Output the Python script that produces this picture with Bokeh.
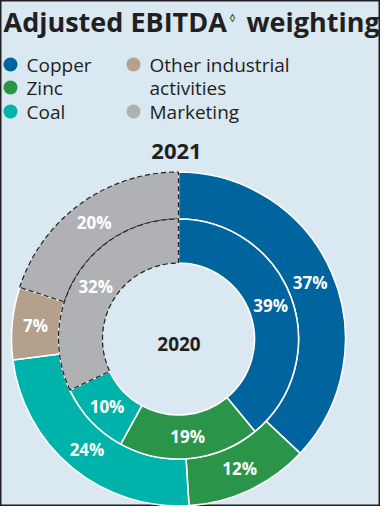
import math
from bokeh.plotting import figure
from bokeh.models import Range1d, ColumnDataSource
from bokeh.embed import file_html
from bokeh.resources import INLINE
from bokeh.core.properties import value

# ---- data ----
categories = ["Copper", "Zinc", "Coal", "Other industrial activities", "Marketing"]
legend_lines = [["Copper"], ["Zinc"], ["Coal"], ["Other industrial", "activities"], ["Marketing"]]
colors = ["#00649f", "#2a9548", "#00b3aa", "#b4a08d", "#b0b1b5"]
share_2021 = [37, 12, 24, 7, 20]
share_2020 = [39, 19, 10, 0, 32]
years = ["2021", "2020"]
title_main = "Adjusted EBITDA"
title_mark = "\u25ca"
title_tail = "weighting"

BG = "#d9e8f1"
INK = "#231f20"
FONT = value("Open Sans")
H = 522  # reference height, used to flip y

CX, CY = 183, H - 340.5
R_OUT, R_MID, R_IN = 167, 120, 76

p = figure(width=380, height=506, x_range=Range1d(5, 385), y_range=Range1d(H - 508, H - 2),
           output_backend="svg", toolbar_location=None, min_border=0,
           x_axis_location=None, y_axis_location=None)
p.grid.visible = False
p.background_fill_color = BG
p.border_fill_color = BG
p.outline_line_color = INK
p.outline_line_width = 2


def ring(shares, r0, r1):
    total = float(sum(shares))
    rows = dict(x=[], y=[], r0=[], r1=[], start=[], end=[], color=[], cat=[],
                lx=[], ly=[], label=[])
    cum = 0.0
    for cat, col, s in zip(categories, colors, shares):
        if s <= 0:
            continue
        a0 = math.pi / 2 - 2 * math.pi * cum / total
        a1 = math.pi / 2 - 2 * math.pi * (cum + s) / total
        am = (a0 + a1) / 2
        rm = (r0 + r1) / 2
        rows["x"].append(CX); rows["y"].append(CY)
        rows["r0"].append(r0); rows["r1"].append(r1)
        rows["start"].append(a0); rows["end"].append(a1)
        rows["color"].append(col); rows["cat"].append(cat)
        rows["lx"].append(CX + rm * math.cos(am))
        rows["ly"].append(CY + rm * math.sin(am))
        rows["label"].append(f"{s}%")
        cum += s
    return rows


outer = ring(share_2021, R_MID, R_OUT)
inner = ring(share_2020, R_IN, R_MID)


def subset(rows, keep):
    idx = [i for i, c in enumerate(rows["cat"]) if keep(c)]
    return ColumnDataSource({k: [v[i] for i in idx] for k, v in rows.items()})


for rows in (outer, inner):
    src = subset(rows, lambda c: c != "Marketing")
    p.annular_wedge(x="x", y="y", inner_radius="r0", outer_radius="r1",
                    start_angle="start", end_angle="end", direction="clock",
                    fill_color="color", line_color="white", line_width=1.6, source=src)
for rows in (outer, inner):
    src = subset(rows, lambda c: c == "Marketing")
    p.annular_wedge(x="x", y="y", inner_radius="r0", outer_radius="r1",
                    start_angle="start", end_angle="end", direction="clock",
                    fill_color="color", line_color=INK, line_width=1.2,
                    line_dash="5 3", source=src)

for rows in (outer, inner):
    p.text(x="lx", y="ly", text="label", source=ColumnDataSource(rows),
           text_font=FONT, text_font_style="bold", text_font_size="17px",
           text_color="white", text_align="center", text_baseline="middle")

# year labels
p.text(x=[181], y=[H - 153], text=[years[0]], text_font=FONT, text_font_style="bold",
       text_font_size="22px", text_color=INK, text_align="center", text_baseline="middle")
p.text(x=[183.5], y=[H - 345], text=[years[1]], text_font=FONT, text_font_style="bold",
       text_font_size="19px", text_color=INK, text_align="center", text_baseline="middle")

# title
p.text(x=[8], y=[H - 23], text=[title_main], text_font=FONT, text_font_style="bold",
       text_font_size="27px", text_color=INK, text_align="left", text_baseline="middle")
p.text(x=[237], y=[H - 19], text=[title_mark], text_font=FONT,
       text_font_size="11px", text_color=INK, text_align="center", text_baseline="middle")
p.text(x=[251], y=[H - 23], text=[title_tail], text_font=FONT, text_font_style="bold",
       text_font_size="27px", text_color=INK, text_align="left", text_baseline="middle")

# legend
dot_x = [15, 15, 15, 138, 138]
txt_x = [31, 31, 31, 154, 154]
row_mid = [66, 89, 113, 66, 113]
for i, lines in enumerate(legend_lines):
    p.scatter(x=[dot_x[i]], y=[H - row_mid[i]], size=14, marker="circle",
              fill_color=colors[i], line_color=None)
    for j, ln in enumerate(lines):
        p.text(x=[txt_x[i]], y=[H - (row_mid[i] + 23.5 * j)], text=[ln], text_font=FONT,
               text_font_size="19px", text_color=INK, text_align="left",
               text_baseline="middle")

open("out.html", "w").write(file_html(p, INLINE))
